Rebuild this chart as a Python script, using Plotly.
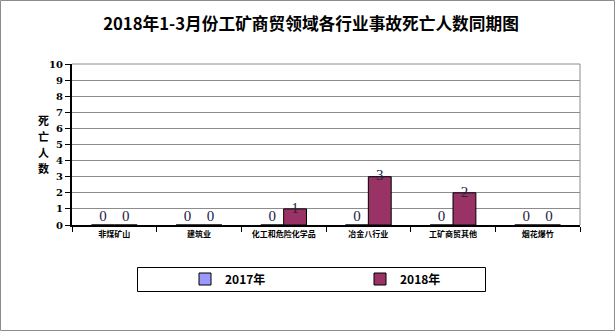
import plotly.graph_objects as go

categories = ["非煤矿山", "建筑业", "化工和危险化学品", "冶金八行业", "工矿商贸其他", "烟花爆竹"]
series_names = ["2017年", "2018年"]
values_2017 = [0, 0, 0, 0, 0, 0]
values_2018 = [0, 0, 1, 3, 2, 0]
colors = ["#9999FF", "#993366"]
y_ticks = list(range(0, 11))

W, H = 615, 331
L, R, T, B = 72, 35, 64, 106
pw, ph = W - L - R, H - T - B

def px_x(p):
    return (p - L) / pw

def px_y(p):
    return (H - B - p) / ph

cjk = "Noto Sans CJK SC"
bar_w = 0.27
offsets = [-bar_w / 2, bar_w / 2]
idx = list(range(len(categories)))

fig = go.Figure()
legend_ids = ["legend", "legend2"]
for name, vals, col, lg, off in zip(series_names, [values_2017, values_2018], colors, legend_ids, offsets):
    xs = [i + off for i in idx]
    fig.add_trace(go.Bar(
        x=xs, y=vals, name=name, legend=lg, width=bar_w,
        marker=dict(color=col, line=dict(color="black", width=1)),
    ))
    fig.add_trace(go.Scatter(
        x=xs, y=vals, mode="text", text=[str(v) for v in vals],
        textposition=["top center" if v == 0 else "middle center" for v in vals],
        showlegend=False, hoverinfo="skip", marker=dict(size=1),
        textfont=dict(family="Liberation Serif, serif", size=15, color="#222244"),
        cliponaxis=False,
    ))

leg_common = dict(orientation="h", xanchor="left", yanchor="middle",
                  font=dict(family=cjk, size=12, color="black", weight="bold"),
                  bgcolor="rgba(0,0,0,0)", borderwidth=0, itemwidth=30)

fig.update_layout(
    width=W, height=H,
    margin=dict(l=L, r=R, t=T, b=B),
    paper_bgcolor="white", plot_bgcolor="white",
    barmode="overlay",
    title=dict(text="<b>2018年1-3月份工矿商贸领域各行业事故死亡人数同期图</b>",
               x=311 / W, xanchor="center", y=1 - 24 / H, yanchor="middle",
               font=dict(family=cjk, size=16.7, color="black")),
    showlegend=True,
    legend=dict(x=px_x(185), y=px_y(279), **leg_common),
    legend2=dict(x=px_x(360), y=px_y(279), **leg_common),
)
fig.update_xaxes(
    range=[-0.5, len(categories) - 0.5],
    tickvals=idx, ticktext=categories, ticks="",
    showline=True, linecolor="black", linewidth=2,
    tickfont=dict(family=cjk, size=8, color="black", weight="bold"),
    minor=dict(tickvals=[i - 0.5 for i in idx] + [len(idx) - 0.5],
               ticks="outside", ticklen=5, tickcolor="black", showgrid=False),
    showgrid=False, tickangle=0, zeroline=False,
)
fig.update_yaxes(
    range=[0, 10], tickvals=y_ticks, ticktext=[str(v) for v in y_ticks],
    showline=True, linecolor="black", linewidth=2,
    ticks="outside", ticklen=5, tickcolor="black",
    tickfont=dict(family="DejaVu Serif, serif", size=10, color="black", weight="bold"),
    showgrid=True, gridcolor="#8c8c8c", gridwidth=1, zeroline=False,
)
# plot area top/right border
fig.add_shape(type="line", xref="paper", yref="paper", x0=0, x1=1, y0=1, y1=1,
              line=dict(color="#8c8c8c", width=1))
fig.add_shape(type="line", xref="paper", yref="paper", x0=1, x1=1, y0=0, y1=1,
              line=dict(color="#8c8c8c", width=1))
# legend box
fig.add_shape(type="rect", xref="paper", yref="paper",
              x0=px_x(137.5), x1=px_x(485.5), y0=px_y(291.5), y1=px_y(267.5),
              line=dict(color="black", width=1))
# outer border
fig.add_shape(type="rect", xref="paper", yref="paper",
              x0=px_x(0.5), x1=px_x(614.5), y0=px_y(330.5), y1=px_y(0.5),
              line=dict(color="#8c8c8c", width=1))
for ch, yp in zip("死亡人数", [120, 136, 152, 168]):
    fig.add_annotation(text="<b>" + ch + "</b>", xref="paper", yref="paper",
                       x=px_x(37), y=px_y(yp), showarrow=False, borderpad=0,
                       font=dict(family=cjk, size=11, color="black"))
fig.write_html("out.html")
